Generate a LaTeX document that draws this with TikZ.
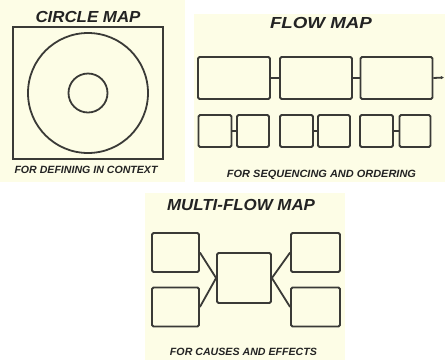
\documentclass[tikz,border=0pt]{standalone}
\usepackage{fontspec}
\setmainfont{Liberation Sans}
\usepackage{graphicx}
\usetikzlibrary{arrows.meta}
\definecolor{panel}{RGB}{253,253,230}
\definecolor{ink}{RGB}{58,58,55}
\definecolor{txt}{RGB}{35,35,35}
\newcommand{\fitw}[2]{\resizebox{#1}{\height}{#2}}
\begin{document}
\begin{tikzpicture}[x=1pt,y=-1pt,
  bx/.style={draw=ink,line width=1.8pt,rounded corners=1.5pt,fill=panel},
  ln/.style={draw=ink,line width=1.8pt},
  ttl/.style={inner sep=0,text=txt,font=\fontsize{16}{16}\selectfont\bfseries\itshape},
  sub/.style={inner sep=0,text=txt,font=\fontsize{10.5}{10.5}\selectfont\bfseries\itshape}]
\useasboundingbox (0,0) rectangle (445,360);
\fill[white] (0,0) rectangle (445,360);
% panels
\fill[panel] (0,0) rectangle (185,182);
\fill[panel] (194,14) rectangle (445,182);
\fill[panel] (145,193) rectangle (345,360);
% circle map
\node[ttl] (t1) at (88,17) {\fitw{105pt}{CIRCLE MAP}};
\draw[ln] (13,27) rectangle (163,159);
\node[draw=ink,line width=1.8pt,circle,minimum size=120pt,inner sep=0] (outer) at (88,93) {};
\node[draw=ink,line width=1.8pt,circle,minimum size=39pt,inner sep=0] (inner) at (88,93) {};
\node[sub] (s1) at (86,170) {\fitw{143pt}{FOR DEFINING IN CONTEXT}};
% flow map
\node[ttl] (t2) at (321,23) {\fitw{102pt}{FLOW MAP}};
\node[bx,minimum width=72pt,minimum height=42pt,inner sep=0] (L1) at (234,78) {};
\node[bx,minimum width=72pt,minimum height=42pt,inner sep=0] (L2) at (316,78) {};
\node[bx,minimum width=72pt,minimum height=42pt,inner sep=0] (L3) at (396.5,78) {};
\coordinate (Lend) at (444,77.5);
\draw[ln] (L1.east) -- (L2.west);
\draw[ln] (L2.east) -- (L3.west);
\draw[ln,-{Latex[length=3pt,width=3.5pt]}] (L3.east) -- (Lend);
\node[bx,minimum width=33pt,minimum height=32pt,inner sep=0] (S1) at (215,131) {};
\node[bx,minimum width=32pt,minimum height=32pt,inner sep=0] (S2) at (253,131) {};
\node[bx,minimum width=33pt,minimum height=32pt,inner sep=0] (S3) at (296.5,131) {};
\node[bx,minimum width=32pt,minimum height=32pt,inner sep=0] (S4) at (334,131) {};
\node[bx,minimum width=33pt,minimum height=32pt,inner sep=0] (S5) at (376.5,131) {};
\node[bx,minimum width=31pt,minimum height=32pt,inner sep=0] (S6) at (415,131) {};
\draw[ln] (S1.east) -- (S2.west);
\draw[ln] (S3.east) -- (S4.west);
\draw[ln] (S5.east) -- (S6.west);
\node[sub] (s2) at (321.5,175) {\fitw{189pt}{FOR SEQUENCING AND ORDERING}};
% multi-flow map
\node[ttl] (t3) at (241,205) {\fitw{148pt}{MULTI-FLOW MAP}};
\node[bx,minimum width=47pt,minimum height=39pt,inner sep=0] (A) at (175.5,252.5) {};
\node[bx,minimum width=47pt,minimum height=39pt,inner sep=0] (B) at (175.5,307) {};
\node[bx,minimum width=54pt,minimum height=50pt,inner sep=0] (C) at (244,278) {};
\node[bx,minimum width=49pt,minimum height=39pt,inner sep=0] (D) at (315.5,252.5) {};
\node[bx,minimum width=49pt,minimum height=39pt,inner sep=0] (E) at (315.5,307) {};
\draw[ln] (A.east) -- (C.west);
\draw[ln] (B.east) -- (C.west);
\draw[ln] (C.east) -- (D.west);
\draw[ln] (C.east) -- (E.west);
\node[sub] (s3) at (243.5,352) {\fitw{147pt}{FOR CAUSES AND EFFECTS}};
\end{tikzpicture}
\end{document}
